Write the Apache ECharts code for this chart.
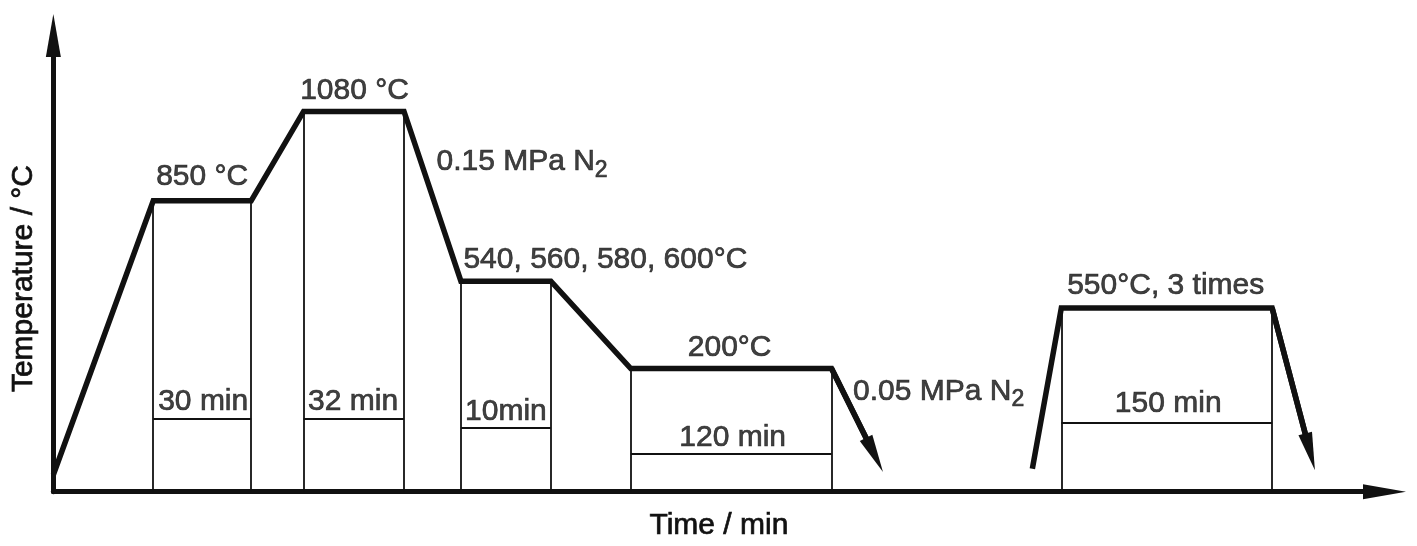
<!DOCTYPE html>
<html>
<head>
<meta charset="utf-8">
<script src="https://cdn.jsdelivr.net/npm/echarts@6/dist/echarts.min.js"></script>
<style>
html,body{margin:0;padding:0;background:#fff;}
#chart{width:1417px;height:546px;}
</style>
</head>
<body>
<div id="chart"></div>
<script>
// Schematic heat-treatment profile (schematic time units, schematic temperature level)
// Part A: heating, austenitising, quench, isothermal holds, cooling
const profileATime  = [0, 100, 198, 250.5, 351, 408, 498, 578, 779, 822];
const profileALevel = [17, 293, 293, 383, 383, 212, 212, 124, 124, 37];
// Part B: tempering 550 °C, 3 times
const profileBTime  = [980, 1009, 1220, 1258];
const profileBLevel = [23, 185, 185, 40];

// Holding stages: start, end, plateau level, level of the duration marker line
const holdText  = ['30 min', '32 min', '10min', '120 min', '150 min'];
const holdStart = [100, 250.5, 408, 578, 1009];
const holdEnd   = [198, 351, 498, 779, 1220];
const holdTop   = [293, 383, 212, 124, 185];
const holdMark  = [73, 73, 64, 38, 69];
const holdTextX = [150, 300, 453, 680, 1116];
const holdTextY = [91, 91, 81, 54, 89];

// Temperature annotations
const tempText  = ['850 °C', '1080 °C', '540, 560, 580, 600°C', '200°C', '550°C, 3 times'];
const tempX     = [149, 301.5, 410, 677, 1113.5];
const tempY     = [317.5, 404, 234, 145, 207.5];
const tempAlign = ['center', 'center', 'left', 'center', 'center'];

// Gas quench annotations (with subscript)
const gasMain = ['0.15 MPa N', '0.05 MPa N'];
const gasSub  = ['2', '2'];
const gasX    = [383, 800];
const gasY    = [332, 101];

const xAxisName = 'Time / min';
const yAxisName = 'Temperature / °C';

const INK = '#111111';
const FONT = '"Liberation Sans", Arial, Helvetica, sans-serif';

const zip = (a, b) => a.map((v, i) => [v, b[i]]);
const profileA = zip(profileATime, profileALevel);
const profileB = zip(profileBTime, profileBLevel);

const arrowSegments = [
  {coords: [profileA[profileA.length - 2], profileA[profileA.length - 1]]},
  {coords: [profileB[profileB.length - 2], profileB[profileB.length - 1]]}
];

const verticals = [];
holdStart.forEach((s, i) => {
  verticals.push({coords: [[s, 0], [s, holdTop[i]]]});
  verticals.push({coords: [[holdEnd[i], 0], [holdEnd[i], holdTop[i]]]});
});
const markers = holdStart.map((s, i) => ({coords: [[s, holdMark[i]], [holdEnd[i], holdMark[i]]]}));

const textStyle = {color: INK, fontFamily: FONT, fontSize: 30, textBorderColor: INK, textBorderWidth: 0.7};

const labelData = [];
holdText.forEach((t, i) => labelData.push({
  value: [holdTextX[i], holdTextY[i]],
  label: {show: true, formatter: t, position: 'inside', align: 'center', verticalAlign: 'middle', ...textStyle}
}));
tempText.forEach((t, i) => labelData.push({
  value: [tempX[i], tempY[i]],
  label: tempAlign[i] === 'left'
    ? {show: true, formatter: t, position: 'right', distance: 0, align: 'left', verticalAlign: 'middle', ...textStyle}
    : {show: true, formatter: t, position: 'inside', align: 'center', verticalAlign: 'middle', ...textStyle}
}));
gasMain.forEach((t, i) => labelData.push({
  value: [gasX[i], gasY[i]],
  label: {
    show: true, position: 'right', distance: 0, align: 'left', verticalAlign: 'middle',
    formatter: '{a|' + t + '}{s|' + gasSub[i] + '}',
    ...textStyle,
    rich: {
      a: {...textStyle, fontSize: 30, lineHeight: 40},
      s: {...textStyle, fontSize: 23, lineHeight: 22, verticalAlign: 'bottom'}
    }
  }
}));

const axisLine = {
  show: true,
  symbol: ['none', 'triangle'],
  symbolSize: [15, 43],
  lineStyle: {color: INK, width: 5}
};

const chart = echarts.init(document.getElementById('chart'), null, {renderer: 'canvas'});
chart.setOption({
  backgroundColor: '#ffffff',
  animation: false,
  grid: {left: 52, right: 32.5, top: 35.5, bottom: 51, containLabel: false},
  xAxis: {
    type: 'value', min: 0, max: 1332.5,
    name: xAxisName, nameLocation: 'middle', nameGap: 19,
    nameTextStyle: {...textStyle, lineHeight: 30},
    axisLine: axisLine, axisTick: {show: false}, axisLabel: {show: false}, splitLine: {show: false}
  },
  yAxis: {
    type: 'value', min: 0, max: 459.5,
    name: yAxisName, nameLocation: 'middle', nameRotate: 90, nameGap: 15,
    nameTextStyle: {...textStyle, lineHeight: 30, padding: [0, 30, 0, 0]},
    axisLine: axisLine, axisTick: {show: false}, axisLabel: {show: false}, splitLine: {show: false}
  },
  series: [
    {
      type: 'lines', coordinateSystem: 'cartesian2d', data: verticals, silent: true,
      lineStyle: {color: INK, width: 1.8, opacity: 1}, symbol: 'none', z: 2
    },
    {
      type: 'lines', coordinateSystem: 'cartesian2d', data: markers, silent: true,
      lineStyle: {color: INK, width: 1.8, opacity: 1}, symbol: 'none', z: 2
    },
    {
      type: 'line', data: profileA, symbol: 'none', silent: true, clip: false,
      lineStyle: {color: INK, width: 5.5, join: 'miter', cap: 'butt'}, z: 3
    },
    {
      type: 'line', data: profileB, symbol: 'none', silent: true, clip: false,
      lineStyle: {color: INK, width: 5.5, join: 'miter', cap: 'butt'}, z: 3
    },
    {
      type: 'lines', coordinateSystem: 'cartesian2d', data: arrowSegments, silent: true,
      symbol: ['none', 'triangle'], symbolSize: [[14, 38], [14, 38]],
      lineStyle: {color: INK, width: 5.5, opacity: 1}, itemStyle: {color: INK}, z: 4
    },
    {
      type: 'scatter', data: labelData, symbolSize: 1, silent: true,
      itemStyle: {color: 'rgba(0,0,0,0)'}, z: 5
    }
  ]
});
</script>
</body>
</html>
